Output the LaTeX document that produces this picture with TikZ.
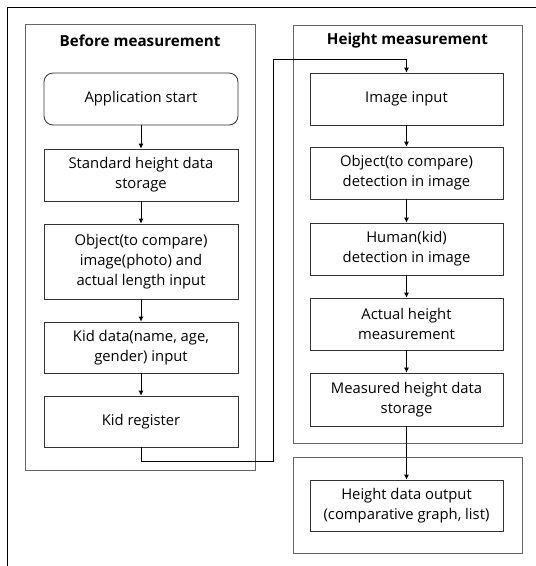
\documentclass[tikz,border=0pt]{standalone}
\usepackage{fontspec}
\setmainfont{Open Sans}
\usetikzlibrary{arrows.meta}
\begin{document}
\begin{tikzpicture}[x=1pt,y=-1pt,
  box/.style={draw=black!80,line width=0.8pt,align=center,inner sep=0pt,
    font=\fontsize{14.8}{20}\selectfont},
  lbox/.style={box,minimum width=194pt},
  rbox/.style={box,minimum width=193pt},
  sect/.style={draw=black!60,line width=0.9pt,inner sep=0pt},
  ttl/.style={font=\fontsize{15.2}{18}\selectfont\bfseries},
  arr/.style={line width=0.8pt,-{Latex[length=5pt,width=5pt]}},
  conn/.style={line width=0.8pt}]
\useasboundingbox (0,0) rectangle (536,566);
% outer frame
\draw[line width=1pt] (536,7) -- (7,7) -- (7,566);
% section boxes
\node[sect,minimum width=230pt,minimum height=446pt] (secL) at (140,247) {};
\node[sect,minimum width=229pt,minimum height=418pt] (secR) at (407.5,234) {};
\node[sect,minimum width=229pt,minimum height=96pt] (secB) at (407.5,505) {};
\node[ttl] (tL) at (140,41) {Before measurement};
\node[ttl] (tR) at (407.5,41) {Height measurement};
% left column
\node[lbox,minimum height=52pt,rounded corners=9pt] (app) at (141,99) {Application start};
\node[lbox,minimum height=52pt] (std) at (141,175) {Standard height data\\storage};
\node[lbox,minimum height=75pt] (obj) at (141,261.5) {Object(to compare)\\image(photo) and\\actual length input};
\node[lbox,minimum height=51pt] (kid) at (141,347.5) {Kid data(name, age,\\gender) input};
\node[lbox,minimum height=51pt] (kreg) at (141,421.5) {Kid register};
% right column
\node[rbox,minimum height=52pt] (img) at (406.5,99) {Image input};
\node[rbox,minimum height=52pt] (odet) at (406.5,173) {Object(to compare)\\detection in image};
\node[rbox,minimum height=52pt] (hdet) at (406.5,249) {Human(kid)\\detection in image};
\node[rbox,minimum height=52pt] (act) at (406.5,324) {Actual height\\measurement};
\node[rbox,minimum height=53pt] (meas) at (406.5,399.5) {Measured height data\\storage};
\node[rbox,minimum height=51pt] (out) at (406.5,505.5) {Height data output\\(comparative graph, list)};
% arrows
\draw[arr] (app) -- (std);
\draw[arr] (std) -- (obj);
\draw[arr] (obj) -- (kid);
\draw[arr] (kid) -- (kreg);
\draw[arr] (img) -- (odet);
\draw[arr] (odet) -- (hdet);
\draw[arr] (hdet) -- (act);
\draw[arr] (act) -- (meas);
\draw[arr] (meas) -- (out);
\coordinate (c1) at (273,461);
\coordinate (c2) at (273,59);
\draw[arr] (kreg.south) |- (c1) -- (c2) -| (img.north);
\end{tikzpicture}
\end{document}
